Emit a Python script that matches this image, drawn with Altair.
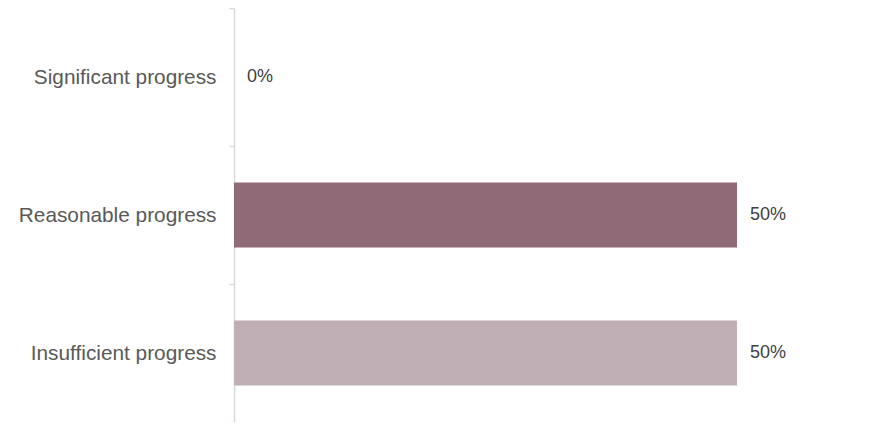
import altair as alt
import pandas as pd

categories = ["Significant progress", "Reasonable progress", "Insufficient progress"]
values = [0.0, 0.5, 0.5]
labels = ["0%", "50%", "50%"]
colors = ["#8E6B77", "#8E6B77", "#BFAEB3"]

df = pd.DataFrame({"cat": categories, "val": values, "lab": labels, "col": colors})

y = alt.Y("cat:N", sort=categories, title=None,
          scale=alt.Scale(paddingInner=0, paddingOuter=0),
          axis=alt.Axis(domainColor="#D9D9D9", domainWidth=1.5, tickColor="#D9D9D9",
                        tickWidth=1.5, tickSize=5, tickBand="extent",
                        labelFont="Liberation Sans", labelFontSize=20.8, labelColor="#595959",
                        labelPadding=13, labelLimit=300))
x = alt.X("val:Q", scale=alt.Scale(domain=[0, 0.5]), axis=None)

bars = alt.Chart(df).mark_bar(height=65).encode(x=x, y=y, color=alt.Color("col:N", scale=None))
text = alt.Chart(df).mark_text(align="left", dx=13, font="Liberation Sans", fontSize=18,
                               color="#404040").encode(x=x, y=y, text="lab:N")

chart = (bars + text).properties(
    width=503, height=414,
    autosize=alt.AutoSizeParams(type="none"),
    padding={"left": 226, "top": 0, "right": 140, "bottom": 0},
).configure_view(stroke=None)

chart.save("out.html", embed_options={"renderer": "svg", "actions": False})
